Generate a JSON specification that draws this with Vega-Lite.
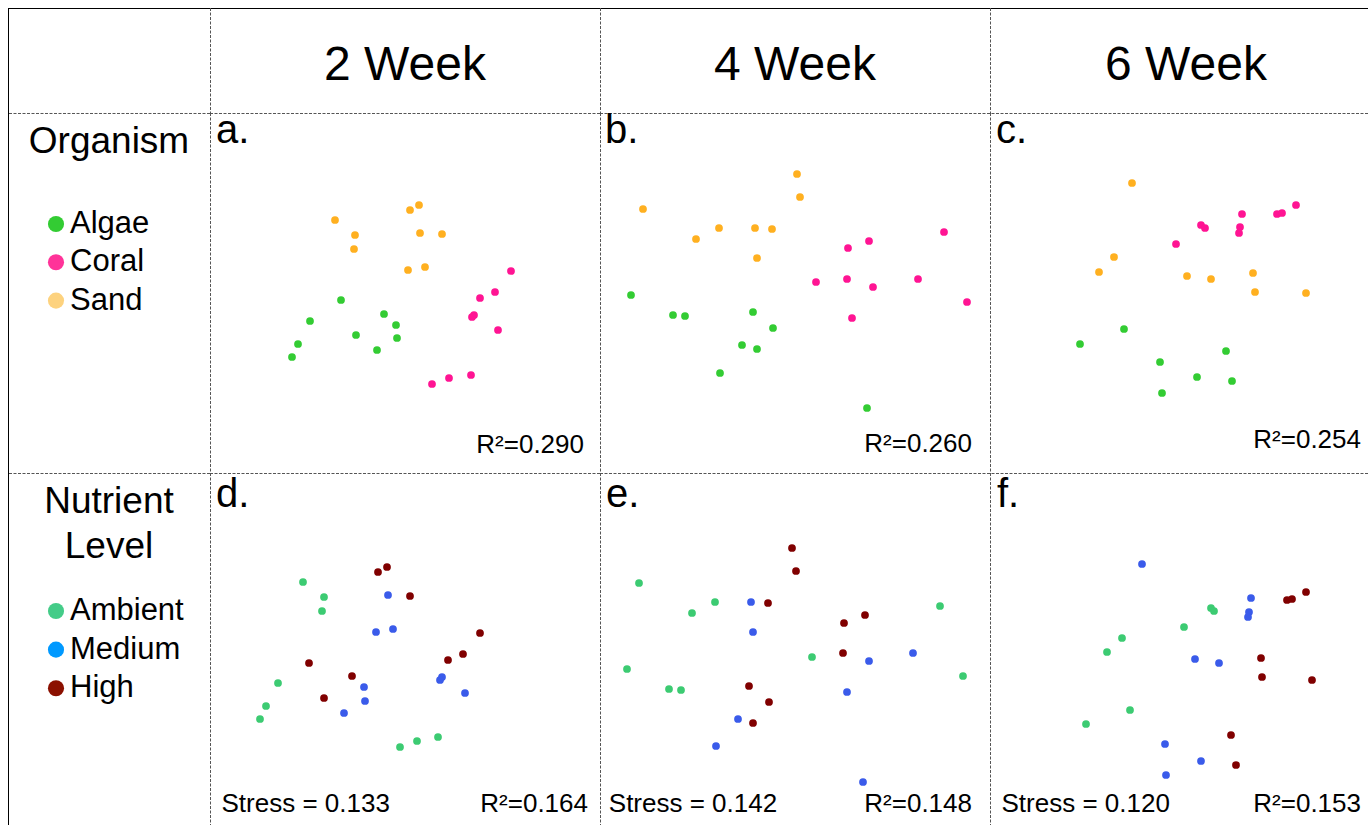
{
  "$schema": "https://vega.github.io/schema/vega-lite/v6.json",
  "padding": {"left": 7, "top": 7, "right": 0, "bottom": 0},
  "background": "white",
  "config": {
    "view": {"stroke": null},
    "font": "Liberation Sans",
    "text": {"font": "Liberation Sans", "color": "#000000"},
    "concat": {"spacing": 0}
  },
  "datasets": {
    "weeks": [{"week": "2 Week"}, {"week": "4 Week"}, {"week": "6 Week"}],
    "titles": [{"legend": "Organism", "title": "Organism"}, {"legend": "Nutrient", "title": "Nutrient\nLevel"}],
    "legend": [
      {"legend": "Organism", "group": "Algae", "rank": 1},
      {"legend": "Organism", "group": "Coral", "rank": 2},
      {"legend": "Organism", "group": "Sand", "rank": 3},
      {"legend": "Nutrient", "group": "Ambient", "rank": 1},
      {"legend": "Nutrient", "group": "Medium", "rank": 2},
      {"legend": "Nutrient", "group": "High", "rank": 3}
    ],
    "panels": [
      {"panel": "a", "label": "a.", "r2": "R²=0.290", "stress": ""},
      {"panel": "b", "label": "b.", "r2": "R²=0.260", "stress": ""},
      {"panel": "c", "label": "c.", "r2": "R²=0.254", "stress": ""},
      {"panel": "d", "label": "d.", "r2": "R²=0.164", "stress": "Stress = 0.133"},
      {"panel": "e", "label": "e.", "r2": "R²=0.148", "stress": "Stress = 0.142"},
      {"panel": "f", "label": "f.", "r2": "R²=0.153", "stress": "Stress = 0.120"}
    ],
    "points": [
      {"panel": "a", "group": "Sand", "nmds1": -0.70, "nmds2": 0.73},
      {"panel": "a", "group": "Sand", "nmds1": -0.50, "nmds2": 0.58},
      {"panel": "a", "group": "Sand", "nmds1": -0.51, "nmds2": 0.44},
      {"panel": "a", "group": "Sand", "nmds1": 0.05, "nmds2": 0.83},
      {"panel": "a", "group": "Sand", "nmds1": 0.14, "nmds2": 0.88},
      {"panel": "a", "group": "Sand", "nmds1": 0.15, "nmds2": 0.60},
      {"panel": "a", "group": "Sand", "nmds1": 0.37, "nmds2": 0.59},
      {"panel": "a", "group": "Sand", "nmds1": 0.03, "nmds2": 0.23},
      {"panel": "a", "group": "Sand", "nmds1": 0.20, "nmds2": 0.26},
      {"panel": "a", "group": "Coral", "nmds1": 1.06, "nmds2": 0.22},
      {"panel": "a", "group": "Coral", "nmds1": 0.90, "nmds2": 0.01},
      {"panel": "a", "group": "Coral", "nmds1": 0.75, "nmds2": -0.05},
      {"panel": "a", "group": "Coral", "nmds1": 0.69, "nmds2": -0.22},
      {"panel": "a", "group": "Coral", "nmds1": 0.67, "nmds2": -0.24},
      {"panel": "a", "group": "Coral", "nmds1": 0.93, "nmds2": -0.37},
      {"panel": "a", "group": "Coral", "nmds1": 0.27, "nmds2": -0.91},
      {"panel": "a", "group": "Coral", "nmds1": 0.44, "nmds2": -0.85},
      {"panel": "a", "group": "Coral", "nmds1": 0.66, "nmds2": -0.82},
      {"panel": "a", "group": "Algae", "nmds1": -0.64, "nmds2": -0.07},
      {"panel": "a", "group": "Algae", "nmds1": -0.95, "nmds2": -0.28},
      {"panel": "a", "group": "Algae", "nmds1": -1.07, "nmds2": -0.51},
      {"panel": "a", "group": "Algae", "nmds1": -1.13, "nmds2": -0.64},
      {"panel": "a", "group": "Algae", "nmds1": -0.21, "nmds2": -0.21},
      {"panel": "a", "group": "Algae", "nmds1": -0.09, "nmds2": -0.32},
      {"panel": "a", "group": "Algae", "nmds1": -0.08, "nmds2": -0.45},
      {"panel": "a", "group": "Algae", "nmds1": -0.49, "nmds2": -0.42},
      {"panel": "a", "group": "Algae", "nmds1": -0.28, "nmds2": -0.57},
      {"panel": "b", "group": "Sand", "nmds1": 0.02, "nmds2": 1.19},
      {"panel": "b", "group": "Sand", "nmds1": 0.05, "nmds2": 0.96},
      {"panel": "b", "group": "Sand", "nmds1": -1.52, "nmds2": 0.84},
      {"panel": "b", "group": "Sand", "nmds1": -0.76, "nmds2": 0.65},
      {"panel": "b", "group": "Sand", "nmds1": -0.99, "nmds2": 0.54},
      {"panel": "b", "group": "Sand", "nmds1": -0.40, "nmds2": 0.65},
      {"panel": "b", "group": "Sand", "nmds1": -0.23, "nmds2": 0.64},
      {"panel": "b", "group": "Sand", "nmds1": -0.38, "nmds2": 0.35},
      {"panel": "b", "group": "Coral", "nmds1": 1.49, "nmds2": 0.61},
      {"panel": "b", "group": "Coral", "nmds1": 0.74, "nmds2": 0.52},
      {"panel": "b", "group": "Coral", "nmds1": 0.53, "nmds2": 0.45},
      {"panel": "b", "group": "Coral", "nmds1": 0.21, "nmds2": 0.11},
      {"panel": "b", "group": "Coral", "nmds1": 0.52, "nmds2": 0.14},
      {"panel": "b", "group": "Coral", "nmds1": 0.78, "nmds2": 0.06},
      {"panel": "b", "group": "Coral", "nmds1": 1.23, "nmds2": 0.14},
      {"panel": "b", "group": "Coral", "nmds1": 1.72, "nmds2": -0.09},
      {"panel": "b", "group": "Coral", "nmds1": 0.57, "nmds2": -0.25},
      {"panel": "b", "group": "Algae", "nmds1": -1.64, "nmds2": -0.02},
      {"panel": "b", "group": "Algae", "nmds1": -1.22, "nmds2": -0.22},
      {"panel": "b", "group": "Algae", "nmds1": -1.10, "nmds2": -0.23},
      {"panel": "b", "group": "Algae", "nmds1": -0.42, "nmds2": -0.19},
      {"panel": "b", "group": "Algae", "nmds1": -0.22, "nmds2": -0.35},
      {"panel": "b", "group": "Algae", "nmds1": -0.53, "nmds2": -0.52},
      {"panel": "b", "group": "Algae", "nmds1": -0.38, "nmds2": -0.56},
      {"panel": "b", "group": "Algae", "nmds1": -0.75, "nmds2": -0.80},
      {"panel": "b", "group": "Algae", "nmds1": 0.72, "nmds2": -1.15},
      {"panel": "c", "group": "Sand", "nmds1": -0.53, "nmds2": 1.10},
      {"panel": "c", "group": "Sand", "nmds1": -0.71, "nmds2": 0.36},
      {"panel": "c", "group": "Sand", "nmds1": -0.86, "nmds2": 0.21},
      {"panel": "c", "group": "Sand", "nmds1": 0.02, "nmds2": 0.17},
      {"panel": "c", "group": "Sand", "nmds1": 0.26, "nmds2": 0.14},
      {"panel": "c", "group": "Sand", "nmds1": 0.68, "nmds2": 0.20},
      {"panel": "c", "group": "Sand", "nmds1": 0.70, "nmds2": 0.01},
      {"panel": "c", "group": "Sand", "nmds1": 1.21, "nmds2": 0.00},
      {"panel": "c", "group": "Coral", "nmds1": 1.11, "nmds2": 0.88},
      {"panel": "c", "group": "Coral", "nmds1": 0.92, "nmds2": 0.79},
      {"panel": "c", "group": "Coral", "nmds1": 0.97, "nmds2": 0.80},
      {"panel": "c", "group": "Coral", "nmds1": 0.57, "nmds2": 0.79},
      {"panel": "c", "group": "Coral", "nmds1": 0.16, "nmds2": 0.68},
      {"panel": "c", "group": "Coral", "nmds1": 0.20, "nmds2": 0.65},
      {"panel": "c", "group": "Coral", "nmds1": 0.55, "nmds2": 0.66},
      {"panel": "c", "group": "Coral", "nmds1": 0.54, "nmds2": 0.60},
      {"panel": "c", "group": "Coral", "nmds1": -0.09, "nmds2": 0.49},
      {"panel": "c", "group": "Algae", "nmds1": -0.61, "nmds2": -0.36},
      {"panel": "c", "group": "Algae", "nmds1": -1.05, "nmds2": -0.51},
      {"panel": "c", "group": "Algae", "nmds1": -0.25, "nmds2": -0.69},
      {"panel": "c", "group": "Algae", "nmds1": 0.41, "nmds2": -0.58},
      {"panel": "c", "group": "Algae", "nmds1": 0.12, "nmds2": -0.84},
      {"panel": "c", "group": "Algae", "nmds1": 0.47, "nmds2": -0.88},
      {"panel": "c", "group": "Algae", "nmds1": -0.23, "nmds2": -1.00},
      {"panel": "d", "group": "High", "nmds1": -0.27, "nmds2": 0.81},
      {"panel": "d", "group": "High", "nmds1": -0.18, "nmds2": 0.86},
      {"panel": "d", "group": "High", "nmds1": 0.05, "nmds2": 0.57},
      {"panel": "d", "group": "High", "nmds1": 0.75, "nmds2": 0.20},
      {"panel": "d", "group": "High", "nmds1": 0.58, "nmds2": -0.01},
      {"panel": "d", "group": "High", "nmds1": 0.43, "nmds2": -0.07},
      {"panel": "d", "group": "High", "nmds1": -0.96, "nmds2": -0.10},
      {"panel": "d", "group": "High", "nmds1": -0.53, "nmds2": -0.23},
      {"panel": "d", "group": "High", "nmds1": -0.81, "nmds2": -0.45},
      {"panel": "d", "group": "Medium", "nmds1": -0.17, "nmds2": 0.58},
      {"panel": "d", "group": "Medium", "nmds1": -0.29, "nmds2": 0.21},
      {"panel": "d", "group": "Medium", "nmds1": -0.12, "nmds2": 0.24},
      {"panel": "d", "group": "Medium", "nmds1": 0.37, "nmds2": -0.24},
      {"panel": "d", "group": "Medium", "nmds1": 0.35, "nmds2": -0.27},
      {"panel": "d", "group": "Medium", "nmds1": 0.60, "nmds2": -0.40},
      {"panel": "d", "group": "Medium", "nmds1": -0.41, "nmds2": -0.34},
      {"panel": "d", "group": "Medium", "nmds1": -0.40, "nmds2": -0.48},
      {"panel": "d", "group": "Medium", "nmds1": -0.61, "nmds2": -0.60},
      {"panel": "d", "group": "Ambient", "nmds1": -1.02, "nmds2": 0.71},
      {"panel": "d", "group": "Ambient", "nmds1": -0.81, "nmds2": 0.56},
      {"panel": "d", "group": "Ambient", "nmds1": -0.83, "nmds2": 0.42},
      {"panel": "d", "group": "Ambient", "nmds1": -1.27, "nmds2": -0.30},
      {"panel": "d", "group": "Ambient", "nmds1": -1.39, "nmds2": -0.53},
      {"panel": "d", "group": "Ambient", "nmds1": -1.45, "nmds2": -0.66},
      {"panel": "d", "group": "Ambient", "nmds1": -0.05, "nmds2": -0.94},
      {"panel": "d", "group": "Ambient", "nmds1": 0.12, "nmds2": -0.88},
      {"panel": "d", "group": "Ambient", "nmds1": 0.33, "nmds2": -0.84},
      {"panel": "e", "group": "High", "nmds1": -0.03, "nmds2": 1.05},
      {"panel": "e", "group": "High", "nmds1": 0.01, "nmds2": 0.82},
      {"panel": "e", "group": "High", "nmds1": -0.27, "nmds2": 0.50},
      {"panel": "e", "group": "High", "nmds1": 0.70, "nmds2": 0.38},
      {"panel": "e", "group": "High", "nmds1": 0.49, "nmds2": 0.30},
      {"panel": "e", "group": "High", "nmds1": 0.48, "nmds2": 0.00},
      {"panel": "e", "group": "High", "nmds1": -0.46, "nmds2": -0.33},
      {"panel": "e", "group": "High", "nmds1": -0.26, "nmds2": -0.49},
      {"panel": "e", "group": "High", "nmds1": -0.42, "nmds2": -0.70},
      {"panel": "e", "group": "Medium", "nmds1": -0.44, "nmds2": 0.51},
      {"panel": "e", "group": "Medium", "nmds1": -0.42, "nmds2": 0.21},
      {"panel": "e", "group": "Medium", "nmds1": 0.74, "nmds2": -0.08},
      {"panel": "e", "group": "Medium", "nmds1": 1.18, "nmds2": 0.00},
      {"panel": "e", "group": "Medium", "nmds1": 0.52, "nmds2": -0.39},
      {"panel": "e", "group": "Medium", "nmds1": -0.57, "nmds2": -0.66},
      {"panel": "e", "group": "Medium", "nmds1": -0.79, "nmds2": -0.93},
      {"panel": "e", "group": "Medium", "nmds1": 0.68, "nmds2": -1.29},
      {"panel": "e", "group": "Ambient", "nmds1": -1.56, "nmds2": 0.70},
      {"panel": "e", "group": "Ambient", "nmds1": -0.80, "nmds2": 0.51},
      {"panel": "e", "group": "Ambient", "nmds1": -1.03, "nmds2": 0.40},
      {"panel": "e", "group": "Ambient", "nmds1": -1.68, "nmds2": -0.16},
      {"panel": "e", "group": "Ambient", "nmds1": -1.26, "nmds2": -0.36},
      {"panel": "e", "group": "Ambient", "nmds1": -1.14, "nmds2": -0.37},
      {"panel": "e", "group": "Ambient", "nmds1": 0.17, "nmds2": -0.04},
      {"panel": "e", "group": "Ambient", "nmds1": 1.45, "nmds2": 0.47},
      {"panel": "e", "group": "Ambient", "nmds1": 1.68, "nmds2": -0.23},
      {"panel": "f", "group": "Medium", "nmds1": -0.43, "nmds2": 0.89},
      {"panel": "f", "group": "Medium", "nmds1": 0.66, "nmds2": 0.55},
      {"panel": "f", "group": "Medium", "nmds1": 0.64, "nmds2": 0.41},
      {"panel": "f", "group": "Medium", "nmds1": 0.63, "nmds2": 0.36},
      {"panel": "f", "group": "Medium", "nmds1": 0.10, "nmds2": -0.06},
      {"panel": "f", "group": "Medium", "nmds1": 0.34, "nmds2": -0.10},
      {"panel": "f", "group": "Medium", "nmds1": -0.20, "nmds2": -0.91},
      {"panel": "f", "group": "Medium", "nmds1": 0.16, "nmds2": -1.08},
      {"panel": "f", "group": "Medium", "nmds1": -0.19, "nmds2": -1.22},
      {"panel": "f", "group": "High", "nmds1": 1.21, "nmds2": 0.61},
      {"panel": "f", "group": "High", "nmds1": 1.02, "nmds2": 0.53},
      {"panel": "f", "group": "High", "nmds1": 1.07, "nmds2": 0.54},
      {"panel": "f", "group": "High", "nmds1": 0.76, "nmds2": -0.05},
      {"panel": "f", "group": "High", "nmds1": 0.77, "nmds2": -0.24},
      {"panel": "f", "group": "High", "nmds1": 1.27, "nmds2": -0.27},
      {"panel": "f", "group": "High", "nmds1": 0.46, "nmds2": -0.82},
      {"panel": "f", "group": "High", "nmds1": 0.51, "nmds2": -1.12},
      {"panel": "f", "group": "Ambient", "nmds1": 0.26, "nmds2": 0.45},
      {"panel": "f", "group": "Ambient", "nmds1": 0.29, "nmds2": 0.42},
      {"panel": "f", "group": "Ambient", "nmds1": -0.01, "nmds2": 0.26},
      {"panel": "f", "group": "Ambient", "nmds1": -0.63, "nmds2": 0.15},
      {"panel": "f", "group": "Ambient", "nmds1": -0.78, "nmds2": 0.01},
      {"panel": "f", "group": "Ambient", "nmds1": -0.55, "nmds2": -0.57},
      {"panel": "f", "group": "Ambient", "nmds1": -0.99, "nmds2": -0.71}
    ]
  },
  "columns": 4,
  "spacing": 0,
  "align": "each",
  "bounds": "flush",
  "resolve": {"scale": {"color": "independent", "x": "independent", "y": "independent"}},
  "concat": [
    {
      "width": 202, "height": 105,
      "data": {"name": "weeks"},
      "transform": [{"filter": {"field": "week", "equal": "2 Week"}}],
      "layer": [
        {"mark": {"type": "rule", "color": "#000000", "strokeWidth": 1},
         "encoding": {"y": {"datum": 1.045, "type": "quantitative", "scale": {"domain": [0, 1.05], "nice": false, "zero": false}, "axis": null}}},
        {"mark": {"type": "rule", "color": "#000000", "strokeWidth": 1},
         "encoding": {"x": {"datum": 0.005, "type": "quantitative", "scale": {"domain": [0, 2.02], "nice": false, "zero": false}, "axis": null}}}
      ]
    },
    {
      "width": 390, "height": 105,
      "data": {"name": "weeks"},
      "transform": [{"filter": {"field": "week", "equal": "2 Week"}}],
      "layer": [
        {"mark": {"type": "text", "align": "center", "baseline": "alphabetic", "fontSize": 48},
         "encoding": {
           "x": {"datum": 1.95, "type": "quantitative", "scale": {"domain": [0, 3.9], "nice": false, "zero": false}, "axis": null},
           "y": {"datum": 0.33, "type": "quantitative", "scale": {"domain": [0, 1.05], "nice": false, "zero": false}, "axis": null},
           "text": {"field": "week"}}},
        {"mark": {"type": "rule", "color": "#000000", "strokeWidth": 1},
         "encoding": {"y": {"datum": 1.045, "type": "quantitative", "axis": null}}},
        {"mark": {"type": "rule", "color": "#555555", "strokeWidth": 1, "strokeDash": [3, 1.5]},
         "encoding": {"x": {"datum": 0.005, "type": "quantitative", "axis": null}}}
      ]
    },
    {
      "width": 390, "height": 105,
      "data": {"name": "weeks"},
      "transform": [{"filter": {"field": "week", "equal": "4 Week"}}],
      "layer": [
        {"mark": {"type": "text", "align": "center", "baseline": "alphabetic", "fontSize": 48},
         "encoding": {
           "x": {"datum": 1.95, "type": "quantitative", "scale": {"domain": [0, 3.9], "nice": false, "zero": false}, "axis": null},
           "y": {"datum": 0.33, "type": "quantitative", "scale": {"domain": [0, 1.05], "nice": false, "zero": false}, "axis": null},
           "text": {"field": "week"}}},
        {"mark": {"type": "rule", "color": "#000000", "strokeWidth": 1},
         "encoding": {"y": {"datum": 1.045, "type": "quantitative", "axis": null}}},
        {"mark": {"type": "rule", "color": "#555555", "strokeWidth": 1, "strokeDash": [3, 1.5]},
         "encoding": {"x": {"datum": 0.005, "type": "quantitative", "axis": null}}}
      ]
    },
    {
      "width": 378, "height": 105,
      "data": {"name": "weeks"},
      "transform": [{"filter": {"field": "week", "equal": "6 Week"}}],
      "layer": [
        {"mark": {"type": "text", "align": "center", "baseline": "alphabetic", "fontSize": 48},
         "encoding": {
           "x": {"datum": 1.96, "type": "quantitative", "scale": {"domain": [0, 3.78], "nice": false, "zero": false}, "axis": null},
           "y": {"datum": 0.33, "type": "quantitative", "scale": {"domain": [0, 1.05], "nice": false, "zero": false}, "axis": null},
           "text": {"field": "week"}}},
        {"mark": {"type": "rule", "color": "#000000", "strokeWidth": 1},
         "encoding": {"y": {"datum": 1.045, "type": "quantitative", "axis": null}}},
        {"mark": {"type": "rule", "color": "#555555", "strokeWidth": 1, "strokeDash": [3, 1.5]},
         "encoding": {"x": {"datum": 0.005, "type": "quantitative", "axis": null}}}
      ]
    },
    {
      "width": 202, "height": 360,
      "layer": [
        {"data": {"name": "legend"}, "transform": [{"filter": {"field": "legend", "equal": "Organism"}}],
         "mark": {"type": "circle", "size": 260, "opacity": 1},
         "encoding": {
           "x": {"datum": 0.48, "type": "quantitative", "scale": {"domain": [0, 2.02], "nice": false, "zero": false}, "axis": null},
           "y": {"field": "rank", "type": "quantitative", "scale": {"domain": [-1.898, 7.501], "reverse": true, "nice": false, "zero": false}, "axis": null},
           "color": {"field": "group", "type": "nominal", "scale": {"domain": ["Algae", "Coral", "Sand"], "range": ["#33CC33", "#FF3399", "#FDD27E"]}, "legend": null}}},
        {"data": {"name": "legend"}, "transform": [{"filter": {"field": "legend", "equal": "Organism"}}],
         "mark": {"type": "text", "align": "left", "baseline": "middle", "fontSize": 31},
         "encoding": {
           "x": {"datum": 0.62, "type": "quantitative", "axis": null},
           "y": {"field": "rank", "type": "quantitative", "axis": null},
           "text": {"field": "group"}}},
        {"data": {"name": "titles"}, "transform": [{"filter": {"field": "legend", "equal": "Organism"}}],
         "mark": {"type": "text", "align": "center", "baseline": "alphabetic", "fontSize": 37, "lineBreak": "\n", "lineHeight": 45},
         "encoding": {
           "x": {"datum": 1.01, "type": "quantitative", "axis": null},
           "y": {"datum": -0.846, "type": "quantitative", "axis": null},
           "text": {"field": "title"}}},
        {"data": {"name": "titles"}, "transform": [{"filter": {"field": "legend", "equal": "Organism"}}],
         "mark": {"type": "rule", "color": "#000000", "strokeWidth": 1},
         "encoding": {"x": {"datum": 0.005, "type": "quantitative", "axis": null}}},
        {"data": {"name": "titles"}, "transform": [{"filter": {"field": "legend", "equal": "Organism"}}],
         "mark": {"type": "rule", "color": "#555555", "strokeWidth": 1, "strokeDash": [3, 1.5]},
         "encoding": {"y": {"datum": -1.885, "type": "quantitative", "axis": null}}}
      ]
    },
    {
      "width": 390, "height": 360,
      "layer": [
        {"data": {"name": "points"}, "transform": [{"filter": {"field": "panel", "equal": "a"}}],
         "mark": {"type": "circle", "size": 60, "opacity": 1},
         "encoding": {
           "x": {"field": "nmds1", "type": "quantitative", "scale": {"domain": [-1.95, 1.95], "nice": false, "zero": false}, "axis": null},
           "y": {"field": "nmds2", "type": "quantitative", "scale": {"domain": [-1.8, 1.8], "nice": false, "zero": false}, "axis": null},
           "color": {"field": "group", "type": "nominal", "scale": {"domain": ["Algae", "Coral", "Sand"], "range": ["#33CC33", "#FF1493", "#FFB020"]}, "legend": null}}},
        {"data": {"name": "panels"}, "transform": [{"filter": {"field": "panel", "equal": "a"}}],
         "mark": {"type": "rule", "color": "#555555", "strokeWidth": 1, "strokeDash": [3, 1.5]},
         "encoding": {"x": {"datum": -1.945, "type": "quantitative", "axis": null}}},
        {"data": {"name": "panels"}, "transform": [{"filter": {"field": "panel", "equal": "a"}}],
         "mark": {"type": "rule", "color": "#555555", "strokeWidth": 1, "strokeDash": [3, 1.5]},
         "encoding": {"y": {"datum": 1.795, "type": "quantitative", "axis": null}}},
        {"data": {"name": "panels"}, "transform": [{"filter": {"field": "panel", "equal": "a"}}],
         "mark": {"type": "text", "align": "left", "baseline": "alphabetic", "fontSize": 40},
         "encoding": {"x": {"datum": -1.89, "type": "quantitative", "axis": null}, "y": {"datum": 1.5, "type": "quantitative", "axis": null}, "text": {"field": "label"}}},
        {"data": {"name": "panels"}, "transform": [{"filter": {"field": "panel", "equal": "a"}}],
         "mark": {"type": "text", "align": "right", "baseline": "alphabetic", "fontSize": 26},
         "encoding": {"x": {"datum": 1.79, "type": "quantitative", "axis": null}, "y": {"datum": -1.60, "type": "quantitative", "axis": null}, "text": {"field": "r2"}}}
      ]
    },
    {
      "width": 390, "height": 360,
      "layer": [
        {"data": {"name": "points"}, "transform": [{"filter": {"field": "panel", "equal": "b"}}],
         "mark": {"type": "circle", "size": 60, "opacity": 1},
         "encoding": {
           "x": {"field": "nmds1", "type": "quantitative", "scale": {"domain": [-1.95, 1.95], "nice": false, "zero": false}, "axis": null},
           "y": {"field": "nmds2", "type": "quantitative", "scale": {"domain": [-1.8, 1.8], "nice": false, "zero": false}, "axis": null},
           "color": {"field": "group", "type": "nominal", "scale": {"domain": ["Algae", "Coral", "Sand"], "range": ["#33CC33", "#FF1493", "#FFB020"]}, "legend": null}}},
        {"data": {"name": "panels"}, "transform": [{"filter": {"field": "panel", "equal": "b"}}],
         "mark": {"type": "rule", "color": "#555555", "strokeWidth": 1, "strokeDash": [3, 1.5]},
         "encoding": {"x": {"datum": -1.945, "type": "quantitative", "axis": null}}},
        {"data": {"name": "panels"}, "transform": [{"filter": {"field": "panel", "equal": "b"}}],
         "mark": {"type": "rule", "color": "#555555", "strokeWidth": 1, "strokeDash": [3, 1.5]},
         "encoding": {"y": {"datum": 1.795, "type": "quantitative", "axis": null}}},
        {"data": {"name": "panels"}, "transform": [{"filter": {"field": "panel", "equal": "b"}}],
         "mark": {"type": "text", "align": "left", "baseline": "alphabetic", "fontSize": 40},
         "encoding": {"x": {"datum": -1.9, "type": "quantitative", "axis": null}, "y": {"datum": 1.5, "type": "quantitative", "axis": null}, "text": {"field": "label"}}},
        {"data": {"name": "panels"}, "transform": [{"filter": {"field": "panel", "equal": "b"}}],
         "mark": {"type": "text", "align": "right", "baseline": "alphabetic", "fontSize": 26},
         "encoding": {"x": {"datum": 1.77, "type": "quantitative", "axis": null}, "y": {"datum": -1.59, "type": "quantitative", "axis": null}, "text": {"field": "r2"}}}
      ]
    },
    {
      "width": 378, "height": 360,
      "layer": [
        {"data": {"name": "points"}, "transform": [{"filter": {"field": "panel", "equal": "c"}}],
         "mark": {"type": "circle", "size": 60, "opacity": 1},
         "encoding": {
           "x": {"field": "nmds1", "type": "quantitative", "scale": {"domain": [-1.95, 1.83], "nice": false, "zero": false}, "axis": null},
           "y": {"field": "nmds2", "type": "quantitative", "scale": {"domain": [-1.8, 1.8], "nice": false, "zero": false}, "axis": null},
           "color": {"field": "group", "type": "nominal", "scale": {"domain": ["Algae", "Coral", "Sand"], "range": ["#33CC33", "#FF1493", "#FFB020"]}, "legend": null}}},
        {"data": {"name": "panels"}, "transform": [{"filter": {"field": "panel", "equal": "c"}}],
         "mark": {"type": "rule", "color": "#555555", "strokeWidth": 1, "strokeDash": [3, 1.5]},
         "encoding": {"x": {"datum": -1.945, "type": "quantitative", "axis": null}}},
        {"data": {"name": "panels"}, "transform": [{"filter": {"field": "panel", "equal": "c"}}],
         "mark": {"type": "rule", "color": "#555555", "strokeWidth": 1, "strokeDash": [3, 1.5]},
         "encoding": {"y": {"datum": 1.795, "type": "quantitative", "axis": null}}},
        {"data": {"name": "panels"}, "transform": [{"filter": {"field": "panel", "equal": "c"}}],
         "mark": {"type": "text", "align": "left", "baseline": "alphabetic", "fontSize": 40},
         "encoding": {"x": {"datum": -1.89, "type": "quantitative", "axis": null}, "y": {"datum": 1.5, "type": "quantitative", "axis": null}, "text": {"field": "label"}}},
        {"data": {"name": "panels"}, "transform": [{"filter": {"field": "panel", "equal": "c"}}],
         "mark": {"type": "text", "align": "right", "baseline": "alphabetic", "fontSize": 26},
         "encoding": {"x": {"datum": 1.76, "type": "quantitative", "axis": null}, "y": {"datum": -1.55, "type": "quantitative", "axis": null}, "text": {"field": "r2"}}}
      ]
    },
    {
      "width": 202, "height": 352,
      "layer": [
        {"data": {"name": "legend"}, "transform": [{"filter": {"field": "legend", "equal": "Nutrient"}}],
         "mark": {"type": "circle", "size": 260, "opacity": 1},
         "encoding": {
           "x": {"datum": 0.48, "type": "quantitative", "scale": {"domain": [0, 2.02], "nice": false, "zero": false}, "axis": null},
           "y": {"field": "rank", "type": "quantitative", "scale": {"domain": [-2.57, 6.537], "reverse": true, "nice": false, "zero": false}, "axis": null},
           "color": {"field": "group", "type": "nominal", "scale": {"domain": ["Ambient", "Medium", "High"], "range": ["#44CC88", "#0099FF", "#8B1000"]}, "legend": null}}},
        {"data": {"name": "legend"}, "transform": [{"filter": {"field": "legend", "equal": "Nutrient"}}],
         "mark": {"type": "text", "align": "left", "baseline": "middle", "fontSize": 31},
         "encoding": {
           "x": {"datum": 0.62, "type": "quantitative", "axis": null},
           "y": {"field": "rank", "type": "quantitative", "axis": null},
           "text": {"field": "group"}}},
        {"data": {"name": "titles"}, "transform": [{"filter": {"field": "legend", "equal": "Nutrient"}}],
         "mark": {"type": "text", "align": "center", "baseline": "alphabetic", "fontSize": 37, "lineBreak": "\n", "lineHeight": 45},
         "encoding": {
           "x": {"datum": 1.01, "type": "quantitative", "axis": null},
           "y": {"datum": -1.528, "type": "quantitative", "axis": null},
           "text": {"field": "title"}}},
        {"data": {"name": "titles"}, "transform": [{"filter": {"field": "legend", "equal": "Nutrient"}}],
         "mark": {"type": "rule", "color": "#000000", "strokeWidth": 1},
         "encoding": {"x": {"datum": 0.005, "type": "quantitative", "axis": null}}},
        {"data": {"name": "titles"}, "transform": [{"filter": {"field": "legend", "equal": "Nutrient"}}],
         "mark": {"type": "rule", "color": "#555555", "strokeWidth": 1, "strokeDash": [3, 1.5]},
         "encoding": {"y": {"datum": -2.557, "type": "quantitative", "axis": null}}}
      ]
    },
    {
      "width": 390, "height": 352,
      "layer": [
        {"data": {"name": "points"}, "transform": [{"filter": {"field": "panel", "equal": "d"}}],
         "mark": {"type": "circle", "size": 60, "opacity": 1},
         "encoding": {
           "x": {"field": "nmds1", "type": "quantitative", "scale": {"domain": [-1.95, 1.95], "nice": false, "zero": false}, "axis": null},
           "y": {"field": "nmds2", "type": "quantitative", "scale": {"domain": [-1.72, 1.8], "nice": false, "zero": false}, "axis": null},
           "color": {"field": "group", "type": "nominal", "scale": {"domain": ["Ambient", "Medium", "High"], "range": ["#3CCB72", "#3A5BEA", "#800000"]}, "legend": null}}},
        {"data": {"name": "panels"}, "transform": [{"filter": {"field": "panel", "equal": "d"}}],
         "mark": {"type": "rule", "color": "#555555", "strokeWidth": 1, "strokeDash": [3, 1.5]},
         "encoding": {"x": {"datum": -1.945, "type": "quantitative", "axis": null}}},
        {"data": {"name": "panels"}, "transform": [{"filter": {"field": "panel", "equal": "d"}}],
         "mark": {"type": "rule", "color": "#555555", "strokeWidth": 1, "strokeDash": [3, 1.5]},
         "encoding": {"y": {"datum": 1.795, "type": "quantitative", "axis": null}}},
        {"data": {"name": "panels"}, "transform": [{"filter": {"field": "panel", "equal": "d"}}],
         "mark": {"type": "text", "align": "left", "baseline": "alphabetic", "fontSize": 40},
         "encoding": {"x": {"datum": -1.89, "type": "quantitative", "axis": null}, "y": {"datum": 1.46, "type": "quantitative", "axis": null}, "text": {"field": "label"}}},
        {"data": {"name": "panels"}, "transform": [{"filter": {"field": "panel", "equal": "d"}}],
         "mark": {"type": "text", "align": "right", "baseline": "alphabetic", "fontSize": 26},
         "encoding": {"x": {"datum": 1.83, "type": "quantitative", "axis": null}, "y": {"datum": -1.59, "type": "quantitative", "axis": null}, "text": {"field": "r2"}}},
        {"data": {"name": "panels"}, "transform": [{"filter": {"field": "panel", "equal": "d"}}],
         "mark": {"type": "text", "align": "left", "baseline": "alphabetic", "fontSize": 26},
         "encoding": {"x": {"datum": -1.835, "type": "quantitative", "axis": null}, "y": {"datum": -1.59, "type": "quantitative", "axis": null}, "text": {"field": "stress"}}}
      ]
    },
    {
      "width": 390, "height": 352,
      "layer": [
        {"data": {"name": "points"}, "transform": [{"filter": {"field": "panel", "equal": "e"}}],
         "mark": {"type": "circle", "size": 60, "opacity": 1},
         "encoding": {
           "x": {"field": "nmds1", "type": "quantitative", "scale": {"domain": [-1.95, 1.95], "nice": false, "zero": false}, "axis": null},
           "y": {"field": "nmds2", "type": "quantitative", "scale": {"domain": [-1.72, 1.8], "nice": false, "zero": false}, "axis": null},
           "color": {"field": "group", "type": "nominal", "scale": {"domain": ["Ambient", "Medium", "High"], "range": ["#3CCB72", "#3A5BEA", "#800000"]}, "legend": null}}},
        {"data": {"name": "panels"}, "transform": [{"filter": {"field": "panel", "equal": "e"}}],
         "mark": {"type": "rule", "color": "#555555", "strokeWidth": 1, "strokeDash": [3, 1.5]},
         "encoding": {"x": {"datum": -1.945, "type": "quantitative", "axis": null}}},
        {"data": {"name": "panels"}, "transform": [{"filter": {"field": "panel", "equal": "e"}}],
         "mark": {"type": "rule", "color": "#555555", "strokeWidth": 1, "strokeDash": [3, 1.5]},
         "encoding": {"y": {"datum": 1.795, "type": "quantitative", "axis": null}}},
        {"data": {"name": "panels"}, "transform": [{"filter": {"field": "panel", "equal": "e"}}],
         "mark": {"type": "text", "align": "left", "baseline": "alphabetic", "fontSize": 40},
         "encoding": {"x": {"datum": -1.89, "type": "quantitative", "axis": null}, "y": {"datum": 1.46, "type": "quantitative", "axis": null}, "text": {"field": "label"}}},
        {"data": {"name": "panels"}, "transform": [{"filter": {"field": "panel", "equal": "e"}}],
         "mark": {"type": "text", "align": "right", "baseline": "alphabetic", "fontSize": 26},
         "encoding": {"x": {"datum": 1.77, "type": "quantitative", "axis": null}, "y": {"datum": -1.59, "type": "quantitative", "axis": null}, "text": {"field": "r2"}}},
        {"data": {"name": "panels"}, "transform": [{"filter": {"field": "panel", "equal": "e"}}],
         "mark": {"type": "text", "align": "left", "baseline": "alphabetic", "fontSize": 26},
         "encoding": {"x": {"datum": -1.862, "type": "quantitative", "axis": null}, "y": {"datum": -1.59, "type": "quantitative", "axis": null}, "text": {"field": "stress"}}}
      ]
    },
    {
      "width": 378, "height": 352,
      "layer": [
        {"data": {"name": "points"}, "transform": [{"filter": {"field": "panel", "equal": "f"}}],
         "mark": {"type": "circle", "size": 60, "opacity": 1},
         "encoding": {
           "x": {"field": "nmds1", "type": "quantitative", "scale": {"domain": [-1.95, 1.83], "nice": false, "zero": false}, "axis": null},
           "y": {"field": "nmds2", "type": "quantitative", "scale": {"domain": [-1.72, 1.8], "nice": false, "zero": false}, "axis": null},
           "color": {"field": "group", "type": "nominal", "scale": {"domain": ["Ambient", "Medium", "High"], "range": ["#3CCB72", "#3A5BEA", "#800000"]}, "legend": null}}},
        {"data": {"name": "panels"}, "transform": [{"filter": {"field": "panel", "equal": "f"}}],
         "mark": {"type": "rule", "color": "#555555", "strokeWidth": 1, "strokeDash": [3, 1.5]},
         "encoding": {"x": {"datum": -1.945, "type": "quantitative", "axis": null}}},
        {"data": {"name": "panels"}, "transform": [{"filter": {"field": "panel", "equal": "f"}}],
         "mark": {"type": "rule", "color": "#555555", "strokeWidth": 1, "strokeDash": [3, 1.5]},
         "encoding": {"y": {"datum": 1.795, "type": "quantitative", "axis": null}}},
        {"data": {"name": "panels"}, "transform": [{"filter": {"field": "panel", "equal": "f"}}],
         "mark": {"type": "text", "align": "left", "baseline": "alphabetic", "fontSize": 40},
         "encoding": {"x": {"datum": -1.88, "type": "quantitative", "axis": null}, "y": {"datum": 1.46, "type": "quantitative", "axis": null}, "text": {"field": "label"}}},
        {"data": {"name": "panels"}, "transform": [{"filter": {"field": "panel", "equal": "f"}}],
         "mark": {"type": "text", "align": "right", "baseline": "alphabetic", "fontSize": 26},
         "encoding": {"x": {"datum": 1.76, "type": "quantitative", "axis": null}, "y": {"datum": -1.59, "type": "quantitative", "axis": null}, "text": {"field": "r2"}}},
        {"data": {"name": "panels"}, "transform": [{"filter": {"field": "panel", "equal": "f"}}],
         "mark": {"type": "text", "align": "left", "baseline": "alphabetic", "fontSize": 26},
         "encoding": {"x": {"datum": -1.835, "type": "quantitative", "axis": null}, "y": {"datum": -1.59, "type": "quantitative", "axis": null}, "text": {"field": "stress"}}}
      ]
    }
  ]
}
